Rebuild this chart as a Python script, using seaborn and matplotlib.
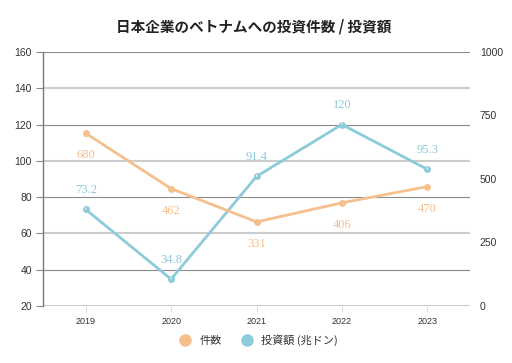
import pandas as pd
import matplotlib.pyplot as plt
import seaborn as sns
from matplotlib.lines import Line2D

sns.set_style('white')
plt.rcParams['font.family'] = ['Noto Sans CJK JP', 'DejaVu Sans']

years = ['2019', '2020', '2021', '2022', '2023']
counts = [680, 462, 331, 406, 470]          # 件数 (right axis)
amounts = [73.2, 34.8, 91.4, 120, 95.3]     # 投資額 (兆ドン, left axis)
title = '日本企業のベトナムへの投資件数 / 投資額'
count_label = '件数'
amount_label = '投資額 (兆ドン)'

orange = '#F5BF8E'
blue = '#8DCADA'

df = pd.DataFrame({'year': years, 'count': counts, 'amount': amounts})

fig = plt.figure(figsize=(5.12, 3.63), dpi=100)
ax = fig.add_axes([0.084, 0.157, 0.834, 0.7])
ax2 = ax.twinx()

sns.lineplot(data=df, x='year', y='amount', ax=ax, color=blue, lw=2,
             marker='o', markersize=5, markeredgewidth=0, sort=False)
sns.lineplot(data=df, x='year', y='count', ax=ax2, color=orange, lw=2,
             marker='o', markersize=5, markeredgewidth=0, sort=False)

ax.set_xlim(-0.5, len(years) - 0.5)
ax.set_ylim(20, 160)
ax.set_yticks(range(20, 161, 20))
ax2.set_ylim(0, 1000)
ax2.set_yticks([0, 250, 500, 750, 1000])

ax.set_xlabel('')
ax.set_ylabel('')
ax2.set_ylabel('')

# gridlines, alternating shade like the original
ax.grid(axis='y')
for i, gl in enumerate(ax.get_ygridlines()):
    if i % 2 == 0:
        gl.set_color('#cccccc')
        gl.set_linewidth(1.5)
    else:
        gl.set_color('#8a8a8a')
        gl.set_linewidth(0.8)
ax.set_axisbelow(True)

for a in (ax, ax2):
    for s in ['top', 'right', 'bottom']:
        a.spines[s].set_visible(False)
ax2.spines['left'].set_visible(False)
ax.spines['left'].set_color('#777777')
ax.spines['left'].set_linewidth(1)

ax.tick_params(axis='y', length=5, color='#888888', labelsize=7.5,
               labelcolor='#333333', pad=3, left=True)
ax.tick_params(axis='x', length=4, color='#dddddd', labelsize=6.5,
               labelcolor='#333333', pad=4, bottom=True)
ax2.tick_params(axis='y', length=0, labelsize=7.5, labelcolor='#333333', pad=7)
for lab in ax.get_yticklabels() + ax.get_xticklabels() + ax2.get_yticklabels():
    lab.set_family(['Liberation Sans', 'DejaVu Sans'])

for i, v in enumerate(amounts):
    ax.annotate(f'{v:g}', (i, v), xytext=(0, 14), textcoords='offset points',
                ha='center', va='center', color=blue, fontsize=9,
                family=['Liberation Serif'],
                arrowprops=dict(arrowstyle='-', color='#eeeeee', lw=0.8,
                                shrinkA=6, shrinkB=3))
for i, v in enumerate(counts):
    ax2.annotate(f'{v}', (i, v), xytext=(0, -16), textcoords='offset points',
                 ha='center', va='center', color=orange, fontsize=9,
                 family=['Liberation Serif'],
                 arrowprops=dict(arrowstyle='-', color='#eeeeee', lw=0.8,
                                 shrinkA=6, shrinkB=3))

fig.suptitle(title, x=0.495, y=0.95, fontsize=10.5, fontweight='bold', color='#222222')

handles = [Line2D([], [], ls='', marker='o', markersize=9, color=orange, markeredgewidth=0),
           Line2D([], [], ls='', marker='o', markersize=9, color=blue, markeredgewidth=0)]
fig.legend(handles, [count_label, amount_label], loc='center', bbox_to_anchor=(0.5, 0.063),
           ncol=2, frameon=False, fontsize=8, handletextpad=0.3, columnspacing=1.2,
           labelcolor='#333333')

fig.savefig('out.png', dpi=100)
